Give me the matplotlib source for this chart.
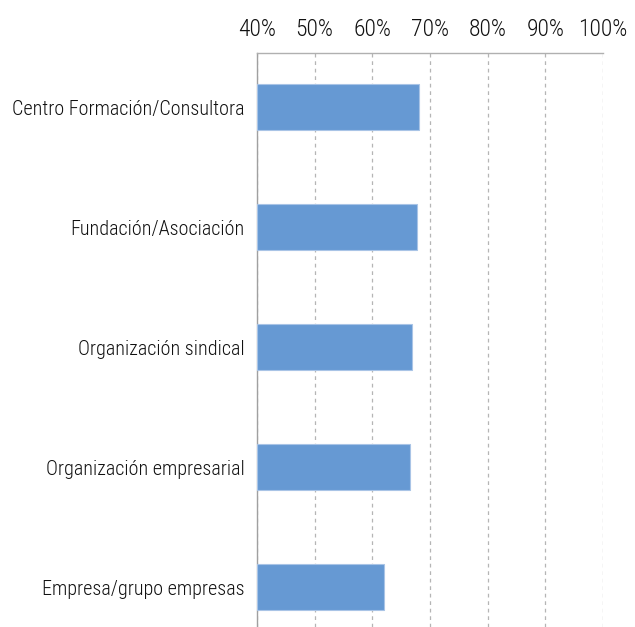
import matplotlib
matplotlib.use("Agg")
import matplotlib.pyplot as plt
from matplotlib.ticker import FixedLocator
import logging
logging.getLogger('matplotlib.font_manager').setLevel(logging.ERROR)

categories = ["Centro Formación/Consultora", "Fundación/Asociación",
              "Organización sindical", "Organización empresarial",
              "Empresa/grupo empresas"]
values = [68.1, 67.8, 66.9, 66.6, 62.1]
ticks = [40, 50, 60, 70, 80, 90, 100]
tick_labels = ["40%", "50%", "60%", "70%", "80%", "90%", "100%"]

plt.rcParams['font.family'] = ['Roboto Condensed', 'Archivo Narrow', 'DejaVu Sans']
plt.rcParams['font.weight'] = 300

fig = plt.figure(figsize=(6.35, 6.27), dpi=100)
ax = fig.add_axes([257/635, 0, (603-257)/635, (627-53)/627])

y = list(range(len(categories)))
ax.barh(y, [v - 40 for v in values], left=40, height=0.39,
        color='#6699d3', edgecolor='#a9c4e6', linewidth=0.8, zorder=3)

ax.set_xlim(40, 100)
ax.set_ylim(4.333, -0.45)
ax.xaxis.tick_top()
ax.xaxis.set_major_locator(FixedLocator(ticks))
ax.set_xticklabels(tick_labels)
ax.set_yticks(y)
ax.set_yticklabels(categories)
ax.tick_params(axis='both', length=0, colors='#111111')
ax.tick_params(axis='x', pad=9, labelsize=17)
ax.tick_params(axis='y', pad=9, labelsize=14.5)
ax.grid(axis='x', color='#b5b5b5', linestyle=(0, (3, 3)), linewidth=0.9, zorder=0)
for s in ['right', 'bottom']:
    ax.spines[s].set_visible(False)
ax.spines['top'].set_color('#b0b0b0')
ax.spines['left'].set_color('#a0a0a0')
ax.spines['top'].set_linewidth(1.0)
ax.spines['left'].set_linewidth(1.0)

fig.savefig('out.png', dpi=100)
